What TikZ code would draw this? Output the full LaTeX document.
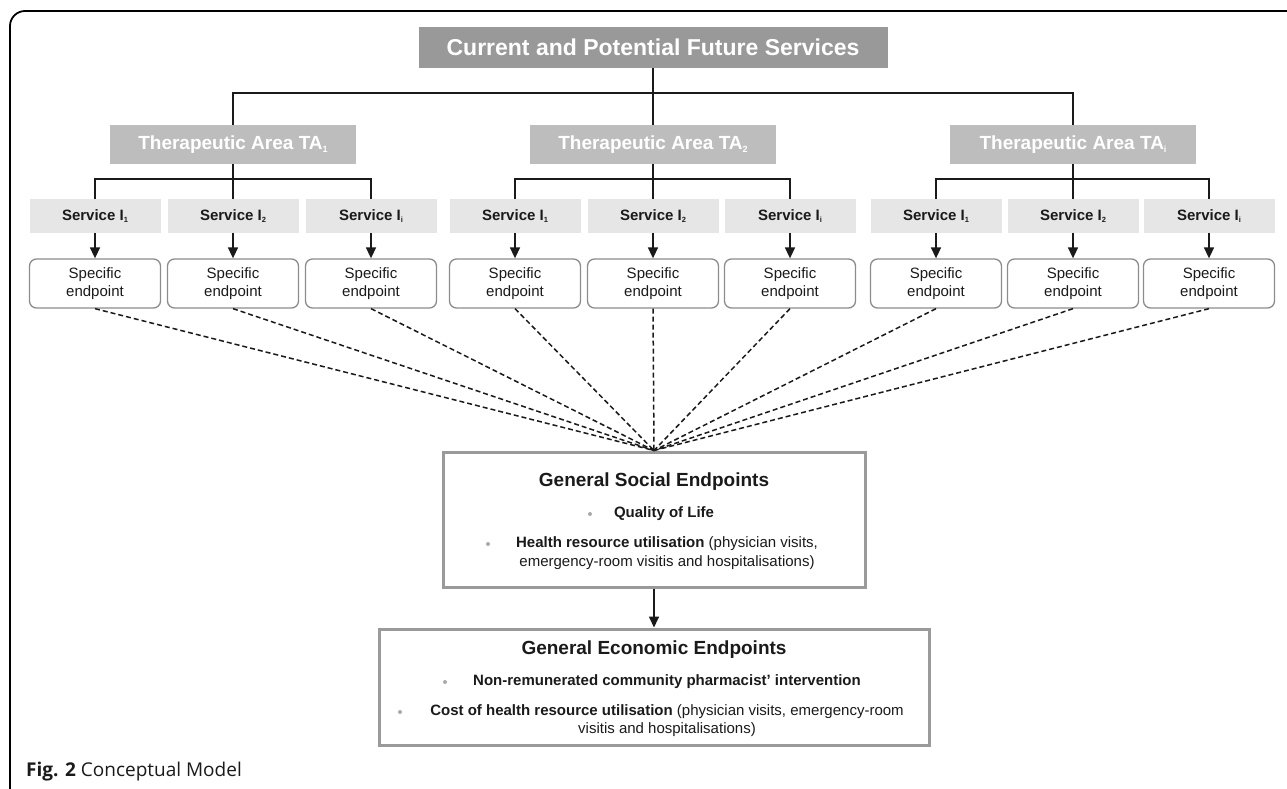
\documentclass[tikz,border=0pt]{standalone}
\usepackage{fontspec}
\setmainfont{Liberation Sans}
\newfontfamily\capfont{Open Sans}
\usetikzlibrary{arrows.meta}
\definecolor{topgray}{HTML}{999999}
\definecolor{tagray}{HTML}{BDBDBD}
\definecolor{svcgray}{HTML}{E6E6E6}
\definecolor{endgray}{HTML}{8C8C8C}
\definecolor{bigray}{HTML}{9A9A9A}
\definecolor{dotgray}{HTML}{AAAAAA}
\definecolor{ink}{HTML}{1A1A1A}
\newcommand\subta[1]{\raisebox{-0.35ex}{\fontsize{9}{9}\selectfont #1}}
\newcommand\subsv[1]{\raisebox{-0.35ex}{\fontsize{7.5}{8}\selectfont #1}}
\tikzset{
  topbox/.style={fill=topgray, text=white, font=\bfseries\fontsize{23}{27}\selectfont, minimum width=469pt, minimum height=41pt, inner sep=0pt},
  tabox/.style={fill=tagray, text=white, font=\bfseries\fontsize{19}{23}\selectfont, minimum width=246pt, minimum height=39pt, inner sep=0pt},
  svcbox/.style={fill=svcgray, text=ink, font=\bfseries\fontsize{15}{18}\selectfont, minimum width=131pt, minimum height=34pt, inner sep=0pt},
  endbox/.style={draw=endgray, line width=1.3pt, rounded corners=7pt, text=ink, font=\fontsize{15}{18}\selectfont, align=center, minimum width=131pt, minimum height=49pt, inner sep=0pt},
  bigbox/.style={draw=bigray, line width=3pt, inner sep=0pt},
  conn/.style={draw=ink, line width=1.6pt},
  arr/.style={draw=ink, line width=1.6pt, -{Triangle[length=11pt,width=10pt]}},
  dashline/.style={draw=ink, line width=1.5pt, dash pattern=on 5pt off 3pt},
  bul/.style={circle, fill=dotgray, inner sep=0pt, minimum size=4pt},
  txt/.style={text=ink, inner sep=0pt, font=\fontsize{15}{19}\selectfont, align=center},
  ttl/.style={text=ink, inner sep=0pt, font=\bfseries\fontsize{19}{23}\selectfont}
}
\begin{document}
\begin{tikzpicture}[x=1pt,y=-1pt]
\useasboundingbox (0,0) rectangle (1287,789);
% frame
\draw[line width=1.8pt, rounded corners=15pt] (10,789) -- (10,11) -- (1287,11);

% top
\node[topbox] (top) at (653,47.5) {Current and Potential Future Services};
% therapeutic areas
\node[tabox] (ta1) at (233,144.5) {Therapeutic Area TA\subta{1}};
\node[tabox] (ta2) at (653,144.5) {Therapeutic Area TA\subta{2}};
\node[tabox] (ta3) at (1073,144.5) {Therapeutic Area TA\subta{i}};
\coordinate (hub) at (653,93);
\draw[conn] (top.south) -- (ta2.north);
\draw[conn] (ta1.north) |- (hub) -| (ta3.north);

% services and endpoints
\foreach \g/\ta/\xa/\xb/\xc in {1/ta1/95/233/371, 2/ta2/515/653/790, 3/ta3/936/1073/1209}{
  \node[svcbox] (s\g a) at (\xa,216) {Service I\subsv{1}};
  \node[svcbox] (s\g b) at (\xb,216) {Service I\subsv{2}};
  \node[svcbox] (s\g c) at (\xc,216) {Service I\subsv{i}};
  \node[endbox] (e\g a) at (\xa,283.5) {Specific\\endpoint};
  \node[endbox] (e\g b) at (\xb,283.5) {Specific\\endpoint};
  \node[endbox] (e\g c) at (\xc,283.5) {Specific\\endpoint};
  \coordinate (bar\g) at (\xb,179);
  \draw[conn] (\ta.south) -- (s\g b.north);
  \draw[conn] (s\g a.north) |- (bar\g) -| (s\g c.north);
  \draw[arr] (s\g a.south) -- (e\g a.north);
  \draw[arr] (s\g b.south) -- (e\g b.north);
  \draw[arr] (s\g c.south) -- (e\g c.north);
}

% general social endpoints
\node[bigbox, minimum width=422pt, minimum height=135pt] (soc) at (654,519.5) {};
\node[ttl] (soct) at (654,482) {General Social Endpoints};
\node[bul] (b1) at (590,514) {};
\node[txt, font=\bfseries\fontsize{15}{19}\selectfont] (qol) at (664,514) {Quality of Life};
\node[bul] (b2) at (488,544) {};
\node[txt] (hru) at (667,553.5) {\textbf{Health resource utilisation} (physician visits,\\emergency-room visitis and hospitalisations)};

% general economic endpoints
\node[bigbox, minimum width=550pt, minimum height=116pt] (eco) at (654,687) {};
\node[ttl] (ecot) at (654,650) {General Economic Endpoints};
\node[bul] (b3) at (445,682) {};
\node[txt, font=\bfseries\fontsize{15}{19}\selectfont] (nri) at (667,682) {Non-remunerated community pharmacist’ intervention};
\node[bul] (b4) at (400,712) {};
\node[txt, font=\fontsize{15}{18}\selectfont] (cost) at (667,721) {\textbf{Cost of health resource utilisation} (physician visits, emergency-room\\visitis and hospitalisations)};

% dashed convergence
\foreach \n in {e1a,e1b,e1c,e2a,e2b,e2c,e3a,e3b,e3c}{
  \draw[dashline] (\n.south) -- (soc.north);
}
\draw[arr] (soc.south) -- (eco.north);

% caption
\node[anchor=west, inner sep=0pt, text=ink, font=\capfont\fontsize{19}{22}\selectfont] (cap) at (26,772) {\textbf{Fig. 2} Conceptual Model};
\end{tikzpicture}
\end{document}
